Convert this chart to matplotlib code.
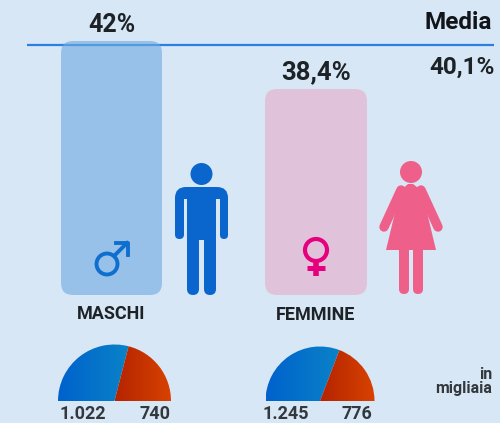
import numpy as np
import matplotlib
matplotlib.use('Agg')
import matplotlib.pyplot as plt
from matplotlib.colors import LinearSegmentedColormap
from matplotlib.patches import Circle, FancyBboxPatch, Polygon

plt.rcParams['font.family'] = ['Roboto', 'DejaVu Sans']

groups = ['MASCHI', 'FEMMINE']
rates = [42, 38.4]
rate_labels = ['42%', '38,4%']
media = 40.1
media_label = '40,1%'
blue_part = [1022, 1245]
red_part = [740, 776]
blue_labels = ['1.022', '1.245']
red_labels = ['740', '776']

BG = '#d8e7f6'
INK = '#1d2226'
H = 423


def Y(py):
    return H - py


fig = plt.figure(figsize=(5, 4.23), dpi=100, facecolor=BG)
ax = fig.add_axes([0, 0, 1, 1])
ax.set_facecolor(BG)
ax.axis('off')


def bar_top(v):
    # 42 sits at pixel row 41, 38.4 at row 89
    return Y(41) - (42 - v) * 48 / 3.6


# baseline and bars
ax.plot([27, 494], [Y(45), Y(45)], color='#2b7fe0', lw=1.6, solid_capstyle='butt', zorder=1)
bar_x = [61, 265]
bar_w = [101, 102]
bar_col = ['#6fabe2', '#e0c3da']
bar_a = [0.62, 1]
for x, w, v, c, a in zip(bar_x, bar_w, rates, bar_col, bar_a):
    ax.add_patch(FancyBboxPatch((x + 12, Y(295) + 12), w - 24, bar_top(v) - Y(295) - 24,
                                boxstyle='round,pad=12,rounding_size=12', fc=c, ec='none',
                                alpha=a, zorder=2))

# percent labels
ax.text(112, Y(25), rate_labels[0], ha='center', va='center', fontsize=18, weight='bold', color=INK)
ax.text(316, Y(72), rate_labels[1], ha='center', va='center', fontsize=18.5, weight='bold', color=INK)
ax.text(492, Y(22), 'Media', ha='right', va='center', fontsize=17.5, weight='bold', color='#111418')
ax.text(495, Y(67), media_label, ha='right', va='center', fontsize=17.5, weight='bold', color=INK)
ax.text(111.5, Y(314), groups[0], ha='center', va='center', fontsize=13, weight='bold', color=INK)
ax.text(316, Y(315), groups[1], ha='center', va='center', fontsize=13, weight='bold', color=INK)
ax.text(492, Y(374), 'in', ha='right', va='center', fontsize=11.5, weight='bold', color='#33383d')
ax.text(492, Y(388), 'migliaia', ha='right', va='center', fontsize=11.5, weight='bold', color='#33383d')

# male sign
MALE = '#0f6fcf'
ax.add_patch(Circle((107, Y(264)), 10.5, fc='none', ec=MALE, lw=2.8, zorder=3))
ax.plot([114, 127], [Y(256), Y(243)], color=MALE, lw=2.8, zorder=3)
ax.plot([116, 128, 128], [Y(243), Y(243), Y(255)], color=MALE, lw=2.8, zorder=3)

# female sign
FEM = '#e6007e'
ax.add_patch(Circle((316, Y(250)), 11, fc='none', ec=FEM, lw=3, zorder=3))
ax.plot([316, 316], [Y(262), Y(276)], color=FEM, lw=4, solid_capstyle='butt', zorder=3)
ax.plot([307, 325], [Y(268), Y(268)], color=FEM, lw=3.6, solid_capstyle='butt', zorder=3)


def rbox(x0, y0, x1, y1, r, c):
    ax.add_patch(FancyBboxPatch((x0 + r, Y(y1) + r), x1 - x0 - 2 * r, y1 - y0 - 2 * r,
                                boxstyle='round,pad=%g,rounding_size=%g' % (r, r),
                                fc=c, ec='none', zorder=3))


# man
MAN = '#0a66cc'
ax.add_patch(Circle((201.5, Y(174)), 11, fc=MAN, ec='none', zorder=3))
rbox(175, 187, 228, 215, 11, MAN)
rbox(175, 195, 184, 239, 4.5, MAN)
rbox(220, 195, 228, 239, 4, MAN)
ax.add_patch(Polygon([(184, Y(199)), (187, Y(199)), (187, Y(240)), (184, Y(240))], fc=BG, ec='none', zorder=3.1))
ax.add_patch(Polygon([(216, Y(199)), (220, Y(199)), (220, Y(240)), (216, Y(240))], fc=BG, ec='none', zorder=3.1))
ax.add_patch(Polygon([(187, Y(195)), (216, Y(195)), (216, Y(240)), (187, Y(240))], fc=MAN, ec='none', zorder=3.2))
rbox(187, 230, 199, 295, 6, MAN)
rbox(204, 230, 216, 295, 6, MAN)

# woman
WOM = '#ee6089'
ax.add_patch(Circle((411, Y(172)), 11, fc=WOM, ec='none', zorder=3))
ax.add_patch(Polygon([(386, Y(250)), (436, Y(250)), (424, Y(200)), (421, Y(190)), (413, Y(184)),
                      (408, Y(184)), (401, Y(190)), (398, Y(200))], fc=WOM, ec='none', zorder=3))
ax.plot([401, 384], [Y(190), Y(227)], color=WOM, lw=6.8, solid_capstyle='round', zorder=3)
ax.plot([421, 438], [Y(190), Y(227)], color=WOM, lw=6.8, solid_capstyle='round', zorder=3)
rbox(399, 245, 409, 294, 5, WOM)
rbox(413, 245, 423, 294, 5, WOM)

# half pies
blue_map = LinearSegmentedColormap.from_list('b', ['#0062cc', '#0a82c8'])
red_map = LinearSegmentedColormap.from_list('r', ['#b42400', '#d84200'])
pie_x = [114.5, 320]
pie_y = [401, 401]
pie_r = [56.5, 54.5]
blue_off = [-32, -34]
red_off = [40, 37]
grad = np.linspace(0, 1, 64).reshape(1, -1)
for i in range(2):
    total = blue_part[i] + red_part[i]
    wedges, _ = ax.pie([blue_part[i], red_part[i], total], center=(pie_x[i], Y(pie_y[i])),
                       radius=pie_r[i], startangle=180, counterclock=False, frame=True,
                       colors=['none', 'none', 'none'])
    cx, cy, r = pie_x[i], Y(pie_y[i]), pie_r[i]
    split = cx + r * np.cos(np.pi - np.pi * blue_part[i] / total)
    im = ax.imshow(grad, cmap=blue_map, extent=(cx - r, split, cy, cy + r), aspect='auto', zorder=3)
    im.set_clip_path(wedges[0])
    im = ax.imshow(grad, cmap=red_map, extent=(cx, cx + r, cy, cy + r), aspect='auto', zorder=3)
    im.set_clip_path(wedges[1])
    ax.text(cx + blue_off[i], Y(418.5), blue_labels[i], ha='center', va='baseline', fontsize=13, weight='bold', color='#33383d')
    ax.text(cx + red_off[i], Y(418.5), red_labels[i], ha='center', va='baseline', fontsize=13, weight='bold', color='#33383d')

ax.set_xlim(0, 500)
ax.set_ylim(0, H)
ax.set_aspect('auto')
fig.savefig('out.png', dpi=100, facecolor=BG)
